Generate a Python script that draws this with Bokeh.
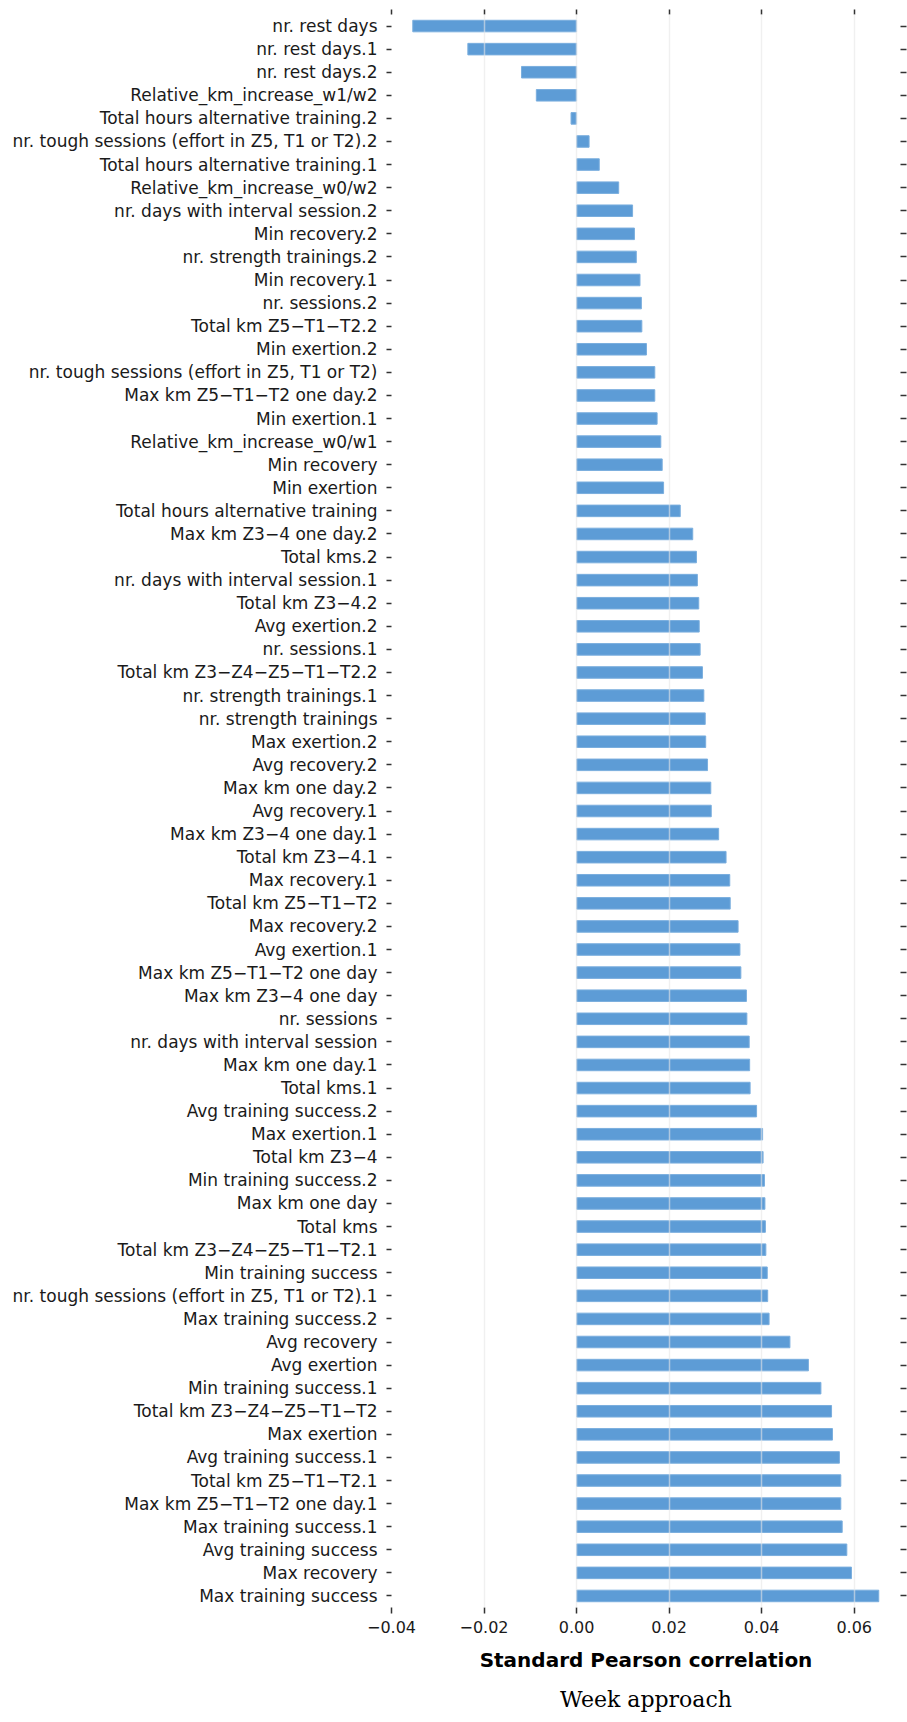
from bokeh.plotting import figure
from bokeh.models import (FactorRange, Range1d, FixedTicker, LinearAxis, CategoricalAxis, Title)
from bokeh.embed import file_html
from bokeh.resources import INLINE

features = [
    "nr. rest days",
    "nr. rest days.1",
    "nr. rest days.2",
    "Relative_km_increase_w1/w2",
    "Total hours alternative training.2",
    "nr. tough sessions (effort in Z5, T1 or T2).2",
    "Total hours alternative training.1",
    "Relative_km_increase_w0/w2",
    "nr. days with interval session.2",
    "Min recovery.2",
    "nr. strength trainings.2",
    "Min recovery.1",
    "nr. sessions.2",
    "Total km Z5\u2212T1\u2212T2.2",
    "Min exertion.2",
    "nr. tough sessions (effort in Z5, T1 or T2)",
    "Max km Z5\u2212T1\u2212T2 one day.2",
    "Min exertion.1",
    "Relative_km_increase_w0/w1",
    "Min recovery",
    "Min exertion",
    "Total hours alternative training",
    "Max km Z3\u22124 one day.2",
    "Total kms.2",
    "nr. days with interval session.1",
    "Total km Z3\u22124.2",
    "Avg exertion.2",
    "nr. sessions.1",
    "Total km Z3\u2212Z4\u2212Z5\u2212T1\u2212T2.2",
    "nr. strength trainings.1",
    "nr. strength trainings",
    "Max exertion.2",
    "Avg recovery.2",
    "Max km one day.2",
    "Avg recovery.1",
    "Max km Z3\u22124 one day.1",
    "Total km Z3\u22124.1",
    "Max recovery.1",
    "Total km Z5\u2212T1\u2212T2",
    "Max recovery.2",
    "Avg exertion.1",
    "Max km Z5\u2212T1\u2212T2 one day",
    "Max km Z3\u22124 one day",
    "nr. sessions",
    "nr. days with interval session",
    "Max km one day.1",
    "Total kms.1",
    "Avg training success.2",
    "Max exertion.1",
    "Total km Z3\u22124",
    "Min training success.2",
    "Max km one day",
    "Total kms",
    "Total km Z3\u2212Z4\u2212Z5\u2212T1\u2212T2.1",
    "Min training success",
    "nr. tough sessions (effort in Z5, T1 or T2).1",
    "Max training success.2",
    "Avg recovery",
    "Avg exertion",
    "Min training success.1",
    "Total km Z3\u2212Z4\u2212Z5\u2212T1\u2212T2",
    "Max exertion",
    "Avg training success.1",
    "Total km Z5\u2212T1\u2212T2.1",
    "Max km Z5\u2212T1\u2212T2 one day.1",
    "Max training success.1",
    "Avg training success",
    "Max recovery",
    "Max training success",
]

correlations = [
    -0.0354, -0.0235, -0.0119, -0.0087, -0.0012, 0.0027, 0.0049, 0.0091, 0.0121, 0.0125,
    0.0129, 0.0137, 0.0140, 0.0141, 0.0151, 0.0169, 0.0169, 0.0174, 0.0182, 0.0185,
    0.0188, 0.0224, 0.0251, 0.0259, 0.0261, 0.0264, 0.0265, 0.0267, 0.0272, 0.0275,
    0.0278, 0.0279, 0.0283, 0.0290, 0.0291, 0.0307, 0.0323, 0.0331, 0.0332, 0.0349,
    0.0353, 0.0355, 0.0367, 0.0368, 0.0373, 0.0374, 0.0375, 0.0389, 0.0402, 0.0403,
    0.0406, 0.0407, 0.0408, 0.0409, 0.0412, 0.0413, 0.0416, 0.0461, 0.0501, 0.0528,
    0.0551, 0.0553, 0.0568, 0.0571, 0.0571, 0.0574, 0.0584, 0.0594, 0.0653,
]

x_ticks = [-0.04, -0.02, 0.0, 0.02, 0.04, 0.06]
x_tick_labels = ["\u22120.04", "\u22120.02", "0.00", "0.02", "0.04", "0.06"]

x_label = "Standard Pearson correlation"
caption = "Week approach"

FONT = "DejaVu Sans"
TICK_COLOR = "#333333"
X_MIN, X_MAX = -0.04, 0.0700

p = figure(
    width=907, height=1722,
    y_range=FactorRange(factors=list(reversed(features)), range_padding=0),
    x_range=Range1d(X_MIN, X_MAX),
    output_backend="svg", toolbar_location=None,
    min_border_left=391, min_border_right=7, min_border_top=14, min_border_bottom=115,
)
p.outline_line_color = None
p.background_fill_color = "white"

p.hbar(y=features, left=0, right=correlations, height=0.5,
       fill_color="#5d9cd6", line_color="#7aaede", line_width=1)

ticker = FixedTicker(ticks=x_ticks)
overrides = {t: l for t, l in zip(x_ticks, x_tick_labels)}

# bottom x axis
xa = p.xaxis[0]
xa.ticker = ticker
xa.major_label_overrides = overrides
xa.axis_line_color = None
xa.minor_tick_line_color = None
xa.major_tick_in = 0
xa.major_tick_out = 6
xa.major_tick_line_color = TICK_COLOR
xa.major_tick_line_width = 1.5
xa.major_label_standoff = 7
xa.major_label_text_font = FONT
xa.major_label_text_font_size = "16px"
xa.major_label_text_color = "#1a1a1a"
xa.axis_label = x_label
xa.axis_label_text_font = FONT
xa.axis_label_text_font_style = "bold"
xa.axis_label_text_font_size = "20px"
xa.axis_label_text_color = "#000000"
xa.axis_label_standoff = 12

# left y axis
ya = p.yaxis[0]
ya.axis_line_color = None
ya.major_tick_in = 0
ya.major_tick_out = 5
ya.major_tick_line_color = TICK_COLOR
ya.major_tick_line_width = 1.5
ya.major_label_standoff = 9
ya.major_label_text_font = FONT
ya.major_label_text_font_size = "17px"
ya.major_label_text_color = "#1a1a1a"

# top axis (ticks only)
top = LinearAxis(ticker=ticker, axis_line_color=None, major_tick_in=0, major_tick_out=5,
                 major_tick_line_color=TICK_COLOR, major_tick_line_width=1.5,
                 minor_tick_line_color=None, major_label_text_font_size="0px",
                 major_label_standoff=0)
p.add_layout(top, "above")

# right axis (ticks only)
right = CategoricalAxis(axis_line_color=None, major_tick_in=0, major_tick_out=6,
                        major_tick_line_color=TICK_COLOR, major_tick_line_width=1.5,
                        major_label_text_font_size="0px", major_label_standoff=0)
p.add_layout(right, "right")

# grid drawn over bars
p.ygrid.grid_line_color = None
p.xgrid.ticker = ticker
p.xgrid.grid_line_color = "#e6e6e6"
p.xgrid.grid_line_alpha = 0.6
p.xgrid.grid_line_width = 1.5
p.xgrid.level = "overlay"

p.add_layout(Title(text=caption, text_font="DejaVu Serif", text_font_style="normal",
                   text_font_size="22px", align="center", text_color="#000000",
                   standoff=21), "below")

open("out.html", "w").write(file_html(p, INLINE))
